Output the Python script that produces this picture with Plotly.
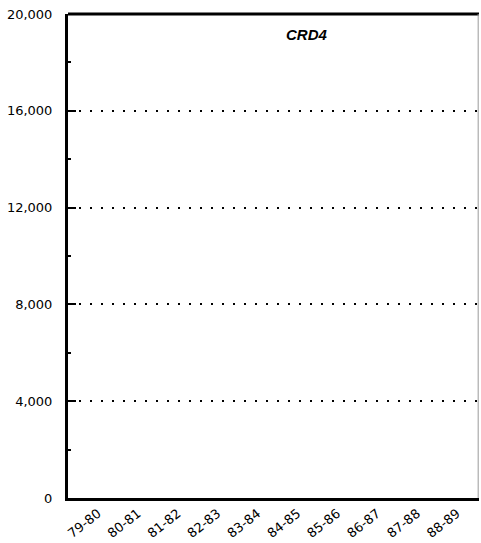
import plotly.graph_objects as go

# categories and axis values (chart has no data marks)
seasons = ['79-80', '80-81', '81-82', '82-83', '83-84', '84-85', '85-86', '86-87', '87-88', '88-89']
values = [None] * len(seasons)
y_ticks = [0, 4000, 8000, 12000, 16000, 20000]
y_labels = ['0', '4,000', '8,000', '12,000', '16,000', '20,000']

fig = go.Figure()
fig.add_trace(go.Scatter(x=seasons, y=values, mode='lines',
                         line=dict(color='black', width=2), showlegend=False))

fig.update_layout(
    width=481, height=543,
    margin=dict(l=68, r=2, t=14, b=43),
    plot_bgcolor='white', paper_bgcolor='white',
    font=dict(family='DejaVu Sans', color='black', size=13),
    annotations=[dict(text='<b><i>CRD4</i></b>', x=0.58, y=0.957, xref='paper', yref='paper',
                      yanchor='middle', showarrow=False,
                      font=dict(size=15, family='Liberation Sans, Arial'))],
    shapes=[
        dict(type='line', xref='paper', yref='paper', x0=0, x1=1, y0=1, y1=1,
             line=dict(color='black', width=3)),
        dict(type='line', xref='paper', yref='paper', x0=0.998, x1=0.998, y0=0, y1=1,
             line=dict(color='#999', width=1)),
    ],
)

fig.update_xaxes(
    type='category', categoryorder='array', categoryarray=seasons,
    range=[-0.75, 9.55],
    showline=True, linecolor='black', linewidth=3,
    showgrid=False, ticks='', tickangle=-38,
    tickfont=dict(size=13, family='DejaVu Sans'),
)

fig.update_yaxes(
    range=[0, 20000],
    tickvals=y_ticks, ticktext=y_labels,
    showline=True, linecolor='black', linewidth=3,
    ticks='inside', ticklen=8, tickwidth=2, tickcolor='black',
    minor=dict(dtick=2000, ticks='inside', ticklen=3, tickwidth=2, tickcolor='black', showgrid=False),
    showgrid=True, gridcolor='black', gridwidth=2, griddash='2px,9px',
    zeroline=False,
    tickfont=dict(size=13, family='DejaVu Sans'),
    ticklabelstandoff=10,
)

# page has a default body margin; drop it so the figure sits at the window corner
fig.write_html("out.html", config={'displayModeBar': False},
               post_script="document.body.style.margin='0';")
